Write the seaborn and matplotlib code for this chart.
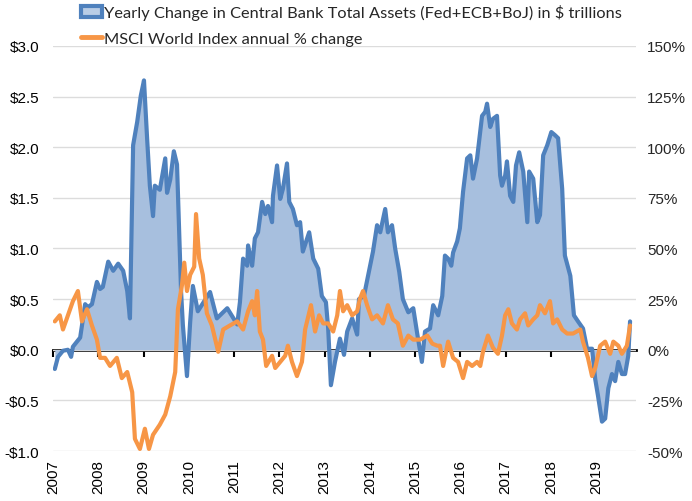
import matplotlib
matplotlib.use("Agg")
import matplotlib.pyplot as plt
from matplotlib.patches import Patch
from matplotlib.lines import Line2D
import seaborn as sns
import pandas as pd

sns.set_style("white")
plt.rcParams['font.family'] = ['Liberation Sans', 'DejaVu Sans']

# yearly change in central bank total assets, $ trillions (decimal year, value)
cb_year = [2007.04, 2007.11, 2007.22, 2007.33, 2007.40, 2007.44, 2007.60, 2007.71, 2007.77, 2007.86,
           2007.97, 2008.04, 2008.10, 2008.22, 2008.33, 2008.44, 2008.55, 2008.64, 2008.70, 2008.77,
           2008.86, 2008.94, 2009.01, 2009.08, 2009.14, 2009.21, 2009.25, 2009.36, 2009.48, 2009.52,
           2009.59, 2009.67, 2009.74, 2009.83, 2009.87, 2009.96, 2010.03, 2010.09, 2010.20, 2010.47,
           2010.62, 2010.85, 2011.07, 2011.13, 2011.20, 2011.29, 2011.31, 2011.40, 2011.46, 2011.53,
           2011.62, 2011.69, 2011.75, 2011.84, 2011.86, 2011.95, 2012.02, 2012.08, 2012.17, 2012.22,
           2012.30, 2012.39, 2012.46, 2012.52, 2012.66, 2012.75, 2012.86, 2012.94, 2013.03, 2013.08,
           2013.14, 2013.23, 2013.34, 2013.43, 2013.50, 2013.61, 2013.72, 2013.76, 2013.87, 2013.96,
           2014.07, 2014.16, 2014.23, 2014.34, 2014.40, 2014.49, 2014.56, 2014.65, 2014.73, 2014.85,
           2014.96, 2015.04, 2015.15, 2015.22, 2015.33, 2015.40, 2015.51, 2015.60, 2015.66, 2015.73,
           2015.80, 2015.84, 2015.93, 2015.99, 2016.06, 2016.15, 2016.22, 2016.28, 2016.37, 2016.48,
           2016.55, 2016.59, 2016.66, 2016.72, 2016.81, 2016.88, 2016.92, 2016.99, 2017.03, 2017.10,
           2017.17, 2017.23, 2017.30, 2017.39, 2017.48, 2017.52, 2017.61, 2017.70, 2017.76, 2017.83,
           2017.92, 2018.01, 2018.09, 2018.16, 2018.25, 2018.31, 2018.43, 2018.51, 2018.60, 2018.71,
           2018.80, 2018.91, 2018.98, 2019.04, 2019.13, 2019.20, 2019.27, 2019.35, 2019.42, 2019.49,
           2019.57, 2019.64, 2019.71, 2019.75]
cb_change = [-0.19, -0.07, -0.01, 0.00, -0.07, 0.03, 0.12, 0.45, 0.42, 0.45,
             0.67, 0.60, 0.62, 0.87, 0.78, 0.85, 0.78, 0.58, 0.31, 2.02,
             2.25, 2.51, 2.66, 2.08, 1.62, 1.32, 1.62, 1.58, 1.89, 1.55,
             1.68, 1.96, 1.83, 0.57, 0.24, -0.26, 0.27, 0.63, 0.38, 0.57,
             0.31, 0.41, 0.25, 0.47, 0.90, 0.83, 1.03, 0.83, 1.10, 1.16,
             1.46, 1.34, 1.42, 1.26, 1.52, 1.82, 1.49, 1.59, 1.84, 1.46,
             1.39, 1.23, 1.26, 0.97, 1.16, 0.90, 0.80, 0.53, 0.47, 0.21,
             -0.35, -0.12, 0.11, -0.05, 0.18, 0.31, 0.15, 0.50, 0.53, 0.73,
             0.97, 1.23, 1.16, 1.39, 1.16, 1.23, 1.00, 0.77, 0.50, 0.37,
             0.41, 0.18, -0.12, 0.18, 0.21, 0.44, 0.34, 0.53, 0.93, 0.90,
             0.83, 0.96, 1.07, 1.20, 1.56, 1.89, 1.92, 1.69, 1.89, 2.31,
             2.35, 2.43, 2.20, 2.28, 2.31, 1.72, 1.62, 1.72, 1.86, 1.52,
             1.46, 1.82, 1.95, 1.76, 1.26, 1.76, 1.69, 1.26, 1.33, 1.92,
             2.02, 2.15, 2.12, 2.09, 1.59, 0.93, 0.73, 0.34, 0.28, 0.21,
             0.01, 0.01, -0.29, -0.45, -0.71, -0.68, -0.38, -0.24, -0.31, -0.12,
             -0.24, -0.24, -0.06, 0.28]

# MSCI World Index annual % change (decimal year, %)
msci_year = [2007.04, 2007.15, 2007.22, 2007.33, 2007.44, 2007.55, 2007.64, 2007.75, 2007.86, 2007.97,
             2008.04, 2008.15, 2008.26, 2008.41, 2008.52, 2008.64, 2008.75, 2008.81, 2008.92, 2009.03,
             2009.12, 2009.21, 2009.36, 2009.48, 2009.59, 2009.70, 2009.76, 2009.85, 2009.90, 2009.96,
             2010.03, 2010.12, 2010.16, 2010.23, 2010.31, 2010.40, 2010.51, 2010.65, 2010.76, 2010.91,
             2011.07, 2011.20, 2011.31, 2011.40, 2011.46, 2011.51, 2011.57, 2011.64, 2011.71, 2011.84,
             2011.91, 2012.02, 2012.13, 2012.19, 2012.28, 2012.39, 2012.50, 2012.57, 2012.70, 2012.79,
             2012.88, 2012.97, 2013.08, 2013.19, 2013.28, 2013.34, 2013.41, 2013.50, 2013.61, 2013.72,
             2013.78, 2013.85, 2013.94, 2014.05, 2014.16, 2014.29, 2014.40, 2014.51, 2014.62, 2014.73,
             2014.85, 2014.96, 2015.11, 2015.27, 2015.38, 2015.49, 2015.55, 2015.62, 2015.73, 2015.84,
             2015.95, 2016.06, 2016.15, 2016.26, 2016.37, 2016.44, 2016.50, 2016.61, 2016.72, 2016.83,
             2016.92, 2016.99, 2017.06, 2017.14, 2017.25, 2017.32, 2017.43, 2017.50, 2017.61, 2017.70,
             2017.76, 2017.87, 2017.98, 2018.05, 2018.14, 2018.25, 2018.36, 2018.49, 2018.65, 2018.71,
             2018.82, 2018.91, 2018.98, 2019.09, 2019.20, 2019.31, 2019.38, 2019.49, 2019.57, 2019.68,
             2019.75]
msci_change = [14, 17, 10, 17, 24, 29, 14, 20, 12, 5,
               -4, -4, -8, -4, -14, -11, -21, -44, -49, -39,
               -49, -42, -37, -32, -23, -11, 20, 32, 43, 29,
               37, 41, 67, 45, 37, 18, 12, -1, 10, 12,
               14, 10, 19, 24, 17, 29, 9, 5, -8, -3,
               -9, -6, -3, 2, -6, -13, -6, 10, 22, 9,
               17, 13, 13, 9, 17, 29, 19, 22, 17, 19,
               25, 29, 22, 15, 17, 13, 22, 15, 13, 2,
               7, 5, 5, 7, 3, 2, 2, -8, 4, -4,
               -6, -14, -6, -8, -6, -8, -1, 7, 1, -2,
               7, 17, 20, 13, 10, 15, 18, 12, 15, 17,
               22, 18, 24, 13, 15, 10, 8, 8, 10, 4,
               -4, -13, -9, 2, 4, -2, 4, 2, -2, 2,
               12]

year_ticks = list(range(2007, 2020))
left_ticks = [-1.0, -0.5, 0.0, 0.5, 1.0, 1.5, 2.0, 2.5, 3.0]
right_ticks = [-50, -25, 0, 25, 50, 75, 100, 125, 150]

blue = "#4f81bd"
fill = "#a7bfde"
orange = "#f79646"

cb = pd.DataFrame({"year": cb_year, "change": cb_change})
msci = pd.DataFrame({"year": msci_year, "change": msci_change})

fig = plt.figure(figsize=(6.92, 5.02), dpi=100)
ax = fig.add_axes([0.0766, 0.0996, 0.8424, 0.8068])

ax.fill_between(cb["year"], cb["change"], 0, color=fill, lw=0, zorder=1)
sns.lineplot(data=cb, x="year", y="change", ax=ax, color=blue, lw=3.0, zorder=3)
ax.set_ylim(-1.0, 3.0)
ax.set_xlim(2007, 2019.88)
ax.set_yticks(left_ticks)
ax.set_yticklabels([("-$%.1f" % -v) if v < 0 else ("$%.1f" % v) for v in left_ticks])
ax.set_xticks(year_ticks)
ax.set_xticklabels([str(y) for y in year_ticks], rotation=90)
ax.yaxis.grid(True, color="#dcdcdc", lw=1, zorder=0)
ax.set_axisbelow(True)
ax.tick_params(axis="both", length=0, labelsize=11, colors="#000000")
ax.tick_params(axis="x", pad=6)
ax.tick_params(axis="y", pad=10)
ax.set_xlabel("")
ax.set_ylabel("")
for s in ax.spines.values():
    s.set_visible(False)

# zero line with year ticks
zero = ax.secondary_xaxis(0.25)
zero.set_xticks(year_ticks)
zero.set_xticklabels([])
zero.tick_params(axis="x", length=5, width=1.5, color="black", direction="out")
zero.spines["bottom"].set_color("black")
zero.spines["bottom"].set_linewidth(2)

ax2 = ax.twinx()
sns.lineplot(data=msci, x="year", y="change", ax=ax2, color=orange, lw=3.0, zorder=4)
ax2.set_ylim(-50, 150)
ax2.set_yticks(right_ticks)
ax2.set_yticklabels(["%d%%" % v for v in right_ticks])
ax2.tick_params(axis="y", length=0, labelsize=11, pad=8)
ax2.set_ylabel("")
for s in ax2.spines.values():
    s.set_visible(False)

handles = [Patch(facecolor="#b9cde6", edgecolor=blue, lw=3),
           Line2D([], [], color=orange, lw=3.5)]
labels = ["Yearly Change in Central Bank Total Assets (Fed+ECB+BoJ) in $ trillions",
          "MSCI World Index annual % change"]
fig.legend(handles, labels, loc="upper left", bbox_to_anchor=(0.0955, 1.019),
           frameon=False, handlelength=1.3, handleheight=0.6, handletextpad=0.12,
           labelspacing=0.7, prop={"family": "Lato", "size": 11.8})

fig.savefig("out.png", dpi=100)
